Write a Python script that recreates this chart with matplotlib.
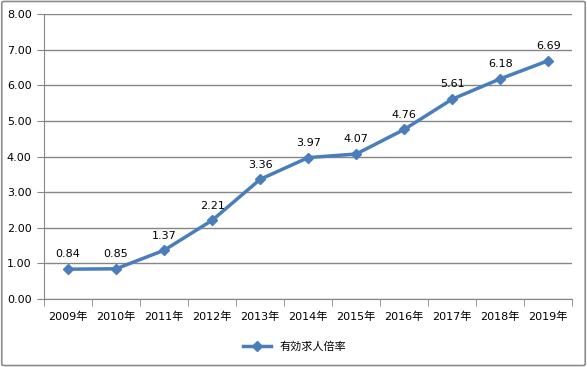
import matplotlib
matplotlib.use('Agg')
import matplotlib.pyplot as plt
from matplotlib.patches import FancyBboxPatch

plt.rcParams['font.family'] = ['DejaVu Sans', 'Noto Sans CJK SC']

years = ['2009年', '2010年', '2011年', '2012年', '2013年', '2014年',
         '2015年', '2016年', '2017年', '2018年', '2019年']
ratio = [0.84, 0.85, 1.37, 2.21, 3.36, 3.97, 4.07, 4.76, 5.61, 6.18, 6.69]
series_name = '有効求人倍率'

line_color = '#4A7EBB'
grid_color = '#868686'

fig = plt.figure(figsize=(5.87, 3.67), dpi=100)
fig.patches.append(FancyBboxPatch((0.003, 0.004), 0.994, 0.992,
                                  boxstyle='round,pad=0,rounding_size=0.004',
                                  transform=fig.transFigure, fill=False,
                                  edgecolor='#8c8c8c', linewidth=1.2))
ax = fig.add_axes([0.075, 0.185, 0.9, 0.777])

xs = list(range(len(years)))
ax.plot(xs, ratio, color=line_color, linewidth=2.5, marker='D',
        markersize=5.5, label=series_name, zorder=3)
for x, v in zip(xs, ratio):
    ax.annotate('%.2f' % v, (x, v), xytext=(0, 7), textcoords='offset points',
                ha='center', va='bottom', fontsize=8)

ax.set_ylim(0, 8)
ax.set_yticks(range(9))
ax.set_yticklabels(['%.2f' % t for t in range(9)], fontsize=8)
ax.set_xlim(-0.5, len(years) - 0.5)
ax.set_xticks(xs)
ax.set_xticklabels(years, fontsize=8)
ax.set_xticks([i - 0.5 for i in range(len(years) + 1)], minor=True)
ax.tick_params(axis='x', which='major', length=0, pad=9)
ax.tick_params(axis='x', which='minor', length=5, color=grid_color)
ax.tick_params(axis='y', length=5, color=grid_color, pad=4)

ax.grid(axis='y', color=grid_color, linewidth=1)
ax.set_axisbelow(True)
for s in ['top', 'right']:
    ax.spines[s].set_visible(False)
for s in ['left', 'bottom']:
    ax.spines[s].set_color(grid_color)

ax.legend(loc='center', bbox_to_anchor=(0.5 - 0.025, -0.165), frameon=False,
          fontsize=8, handlelength=2.5)

fig.savefig('out.png', dpi=100)
